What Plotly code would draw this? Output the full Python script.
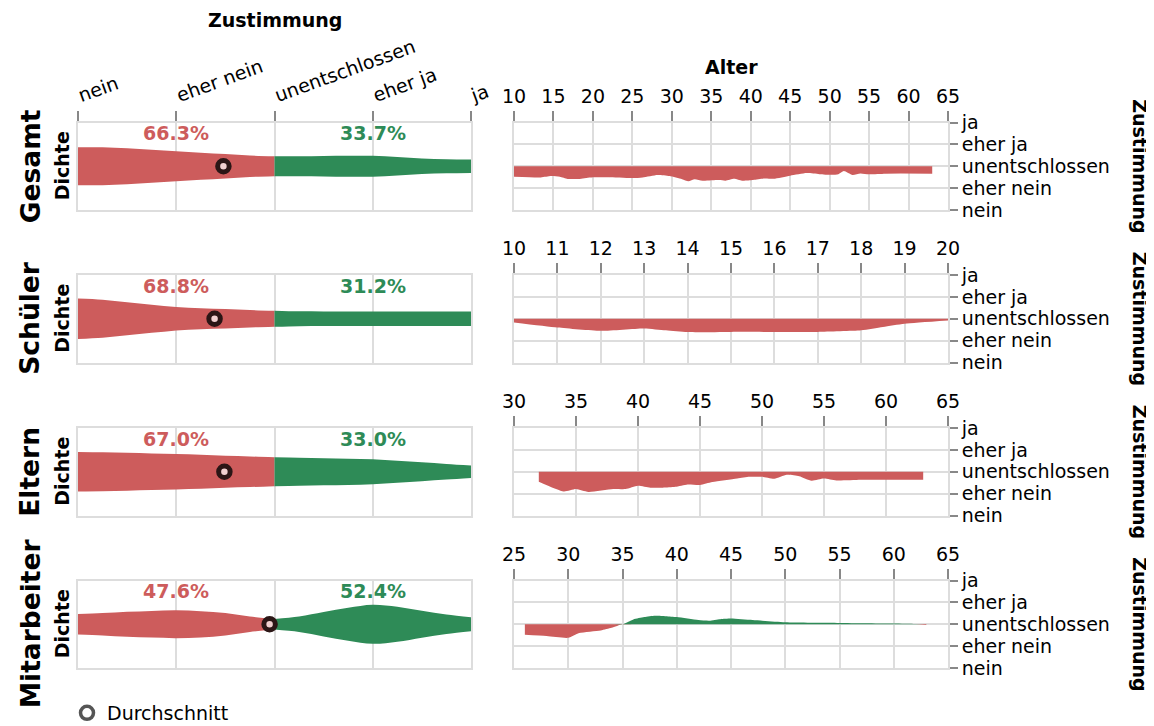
import plotly.graph_objects as go

W, H = 1154, 726
OFF = 8  # the page body adds an 8px margin around the figure
FONT = "DejaVu Sans"
RED = "#cd5c5c"
GREEN = "#2e8b57"
GRID = "#dddddd"

# ---------------- data ----------------
groups = ["Gesamt", "Schüler", "Eltern", "Mitarbeiter"]
zust_labels = ["nein", "eher nein", "unentschlossen", "eher ja", "ja"]
zust_vals = [0, 1, 2, 3, 4]

# density of answers along the agreement scale (0 = nein ... 4 = ja)
dens_x = [0, 0.25, 0.5, 0.75, 1, 1.25, 1.5, 1.75, 2, 2.25, 2.5, 2.75, 3, 3.25, 3.5, 3.75, 4]
dens_gesamt = [0.39, 0.39, 0.37, 0.34, 0.31, 0.28, 0.25, 0.22, 0.205, 0.205, 0.21, 0.215, 0.215, 0.19, 0.16, 0.145, 0.137]
dens_schueler = [0.415, 0.39, 0.34, 0.29, 0.24, 0.215, 0.20, 0.18, 0.165, 0.152, 0.15, 0.15, 0.15, 0.15, 0.15, 0.15, 0.15]
dens_eltern = [0.405, 0.40, 0.39, 0.375, 0.364, 0.35, 0.33, 0.315, 0.297, 0.29, 0.28, 0.27, 0.256, 0.225, 0.194, 0.16, 0.127]
dens_mitarbeiter = [0.21, 0.23, 0.256, 0.275, 0.286, 0.27, 0.229, 0.16, 0.11, 0.16, 0.25, 0.34, 0.403, 0.36, 0.276, 0.20, 0.143]
densities = [dens_gesamt, dens_schueler, dens_eltern, dens_mitarbeiter]

pct_nein = [66.3, 68.8, 67.0, 47.6]
pct_ja = [33.7, 31.2, 33.0, 52.4]
mean_zust = [1.48, 1.39, 1.49, 1.95]

# mean agreement by age
age_gesamt = [10, 13.4, 14.7, 15.8, 16.8, 18.2, 19.7, 21.8, 25, 26.3, 28.2, 29.7, 31.3, 32.1, 32.9, 33.9, 36, 36.8,
              37.9, 38.9, 40.3, 41.8, 42.9, 45, 47.1, 48.7, 50.3, 51.1, 51.8, 52.9, 53.9, 55, 57.1, 63]
mean_gesamt = [1.52, 1.49, 1.55, 1.52, 1.42, 1.42, 1.49, 1.50, 1.46, 1.49, 1.60, 1.55, 1.41, 1.32, 1.41, 1.34, 1.37,
               1.34, 1.43, 1.34, 1.37, 1.44, 1.43, 1.57, 1.69, 1.64, 1.61, 1.64, 1.78, 1.60, 1.67, 1.63, 1.66, 1.66]
age_schueler = [10, 11, 12, 13, 13.5, 14, 15, 16, 17, 18, 18.5, 19, 20]
mean_schueler = [1.83, 1.60, 1.45, 1.56, 1.47, 1.39, 1.40, 1.40, 1.40, 1.47, 1.62, 1.77, 1.92]
age_eltern = [32, 34, 35, 36, 38, 39, 40, 41, 42, 43, 44, 45, 46, 48, 49, 50, 51, 52, 53, 54, 55, 56, 58, 63]
mean_eltern = [1.54, 1.10, 1.21, 1.08, 1.21, 1.21, 1.36, 1.27, 1.27, 1.31, 1.42, 1.40, 1.53, 1.69, 1.77, 1.77, 1.68,
               1.86, 1.80, 1.59, 1.69, 1.60, 1.63, 1.63]
age_mitarbeiter = [26, 28, 30, 31, 33, 34, 35, 36, 37, 38, 39, 40, 42, 43, 44, 45, 47, 50, 55, 60, 62, 63]
mean_mitarbeiter = [1.52, 1.46, 1.38, 1.60, 1.72, 1.84, 2.0, 2.22, 2.33, 2.39, 2.37, 2.33, 2.19, 2.16, 2.23, 2.26,
                    2.19, 2.09, 2.06, 2.03, 2.01, 1.97]
ages = [age_gesamt, age_schueler, age_eltern, age_mitarbeiter]
means_by_age = [mean_gesamt, mean_schueler, mean_eltern, mean_mitarbeiter]

age_range = [[10, 65], [10, 20], [30, 65], [25, 65]]
age_dtick = [5, 1, 5, 5]

# ---------------- layout geometry (screen pixels) ----------------
LX0, LX1 = 78, 471
RX0, RX1 = 514, 948
row_tops = [122.5, 275, 428, 580.5]
ROW_H = 87.5
YR = 0.9


def fx(p):
    return (p - OFF) / W


def fy(p):
    return 1 - (p - OFF) / H


fig = go.Figure()
layout = dict(
    width=W, height=H, margin=dict(l=0, r=0, t=0, b=0, autoexpand=False),
    plot_bgcolor="white", paper_bgcolor="white",
    font=dict(family=FONT, size=19, color="black"),
    showlegend=True,
)
annotations = []

for r, g in enumerate(groups):
    xl, yl = f"x{2*r+1}", f"y{2*r+1}"
    xr, yr = f"x{2*r+2}", f"y{2*r+2}"
    top, bot = row_tops[r], row_tops[r] + ROW_H
    ydom = [fy(bot), fy(top)]
    cy = (top + bot) / 2

    d = densities[r]
    # red part (nein side) and green part (ja side)
    for idx, col in ((range(0, 9), RED), (range(8, 17), GREEN)):
        xs = [dens_x[i] for i in idx]
        lo = [-d[i] for i in idx]
        hi = [d[i] for i in idx]
        fig.add_trace(go.Scatter(x=xs, y=lo, mode="lines", line=dict(width=0, shape="spline"),
                                 xaxis=xl, yaxis=yl, showlegend=False, hoverinfo="skip"))
        fig.add_trace(go.Scatter(x=xs, y=hi, mode="lines", line=dict(width=0, shape="spline"),
                                 fill="tonexty", fillcolor=col, xaxis=xl, yaxis=yl,
                                 showlegend=False, hoverinfo="skip"))
    fig.add_trace(go.Scatter(x=[mean_zust[r]], y=[0], mode="markers",
                             marker=dict(size=11.5, color="#f0d0d0", line=dict(color="#2b1616", width=5)),
                             xaxis=xl, yaxis=yl, showlegend=False, hoverinfo="skip"))

    # age panel
    a = ages[r]
    m = means_by_age[r]
    lower = [min(v, 2) for v in m]
    upper = [max(v, 2) for v in m]
    for vals, col in ((lower, RED), (upper, GREEN)):
        fig.add_trace(go.Scatter(x=a, y=[2] * len(a), mode="lines", line=dict(width=0),
                                 xaxis=xr, yaxis=yr, showlegend=False, hoverinfo="skip"))
        fig.add_trace(go.Scatter(x=a, y=vals, mode="lines", line=dict(width=0, shape="spline", smoothing=0.6),
                                 fill="tonexty", fillcolor=col, xaxis=xr, yaxis=yr,
                                 showlegend=False, hoverinfo="skip"))

    common = dict(showline=True, linecolor=GRID, linewidth=2, mirror=True, zeroline=False,
                  gridcolor=GRID, gridwidth=2, automargin=False)
    layout[f"xaxis{2*r+1}"] = dict(
        domain=[fx(LX0), fx(LX1)], anchor=yl, range=[0, 4], tickvals=zust_vals, ticktext=zust_labels,
        showgrid=True, side="top", showticklabels=(r == 0), ticks="outside" if r == 0 else "",
        ticklen=10, tickwidth=2, tickcolor="#888888", tickangle=-20, tickfont=dict(size=19), **common)
    layout[f"yaxis{2*r+1}"] = dict(
        domain=ydom, anchor=xl, range=[-YR, YR], showticklabels=False, showgrid=False, ticks="", **common)
    layout[f"xaxis{2*r+2}"] = dict(
        domain=[fx(RX0), fx(RX1)], anchor=yr, range=age_range[r], dtick=age_dtick[r], tick0=age_range[r][0],
        showgrid=True, side="top", ticks="outside", ticklen=10, tickwidth=2, tickcolor="#888888",
        tickfont=dict(size=19), **common)
    layout[f"yaxis{2*r+2}"] = dict(
        domain=ydom, anchor=xr, range=[0, 4], tickvals=zust_vals, ticktext=zust_labels, side="right",
        showgrid=True, ticks="outside", ticklen=8, tickwidth=2, tickcolor="#888888",
        tickfont=dict(size=19), **common)

    annotations += [
        dict(text=f"<b>{g}</b>", x=fx(30), y=fy(cy), xref="paper", yref="paper", showarrow=False,
             textangle=-90, font=dict(size=26.5), xanchor="center", yanchor="middle"),
        dict(text="<b>Dichte</b>", x=fx(62), y=fy(cy), xref="paper", yref="paper", showarrow=False,
             textangle=-90, font=dict(size=19), xanchor="center", yanchor="middle"),
        dict(text="<b>Zustimmung</b>", x=fx(1140), y=fy(cy), xref="paper", yref="paper", showarrow=False,
             textangle=90, font=dict(size=19), xanchor="center", yanchor="middle"),
        dict(text=f"<b>{pct_nein[r]:.1f}%</b>", x=1, y=0.68, xref=xl, yref=yl, showarrow=False,
             font=dict(size=19, color=RED), xanchor="center", yanchor="middle"),
        dict(text=f"<b>{pct_ja[r]:.1f}%</b>", x=3, y=0.68, xref=xl, yref=yl, showarrow=False,
             font=dict(size=19, color=GREEN), xanchor="center", yanchor="middle"),
    ]

annotations += [
    dict(text="<b>Zustimmung</b>", x=fx(275), y=fy(20), xref="paper", yref="paper", showarrow=False,
         font=dict(size=19), xanchor="center", yanchor="middle"),
    dict(text="<b>Alter</b>", x=fx(731), y=fy(67), xref="paper", yref="paper", showarrow=False,
         font=dict(size=19), xanchor="center", yanchor="middle"),
]

# legend entry
fig.add_trace(go.Scatter(x=[None], y=[None], mode="markers", name="Durchschnitt",
                         marker=dict(symbol="circle-open", size=13, color="#555555", line=dict(width=3.5)),
                         xaxis="x1", yaxis="y1", showlegend=True))

layout["annotations"] = annotations
layout["legend"] = dict(x=fx(67), y=fy(713), xanchor="left", yanchor="middle", orientation="h",
                        font=dict(size=19), bgcolor="rgba(0,0,0,0)", itemwidth=30)
fig.update_layout(**layout)
fig.write_html("out.html")
